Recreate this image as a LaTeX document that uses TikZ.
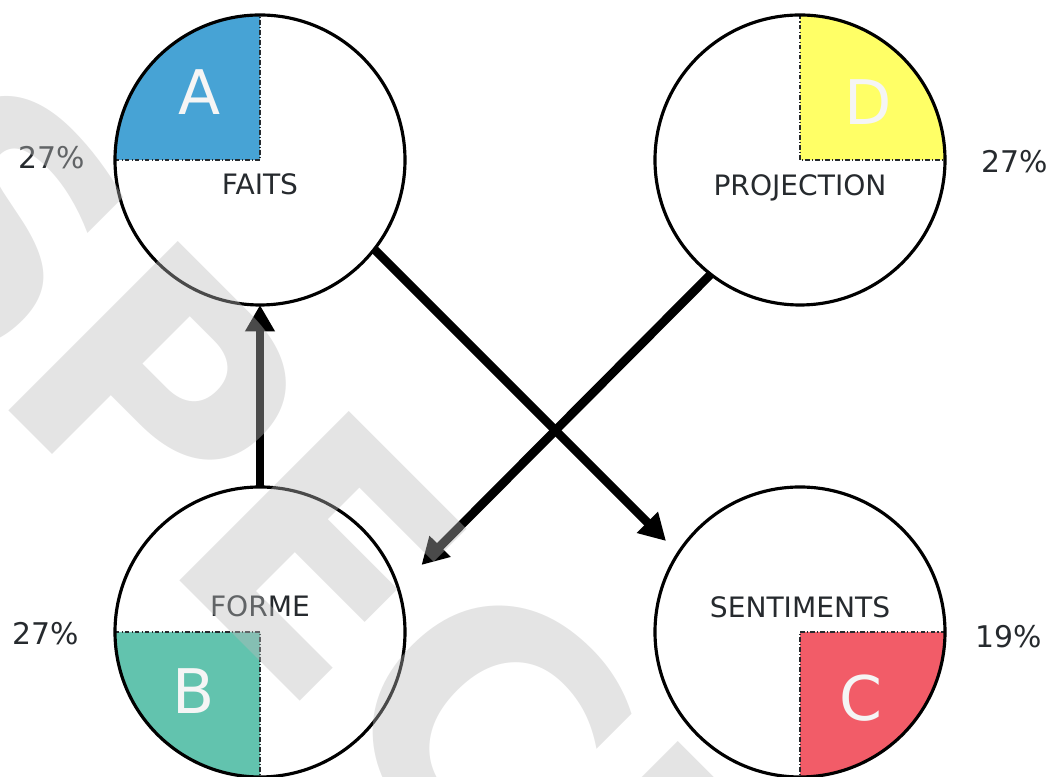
\documentclass[tikz,border=0pt]{standalone}
\usepackage{fontspec}
\setmainfont{DejaVu Sans}
\usepackage{xcolor}
\usetikzlibrary{arrows.meta, positioning, calc}

\definecolor{quadA}{RGB}{71,163,213}
\definecolor{quadB}{RGB}{98,195,174}
\definecolor{quadC}{RGB}{242,92,104}
\definecolor{quadD}{RGB}{255,255,102}
\definecolor{labelgray}{RGB}{38,42,46}
\definecolor{markgray}{RGB}{187,187,187}

\tikzset{
	pole/.style={circle, minimum size=5.8cm, inner sep=0pt, outer sep=0pt},
	ring/.style={draw=black, line width=1.8pt},
	split/.style={draw=labelgray, line width=1.2pt, dash pattern=on 2.5pt off 1.2pt on 0.8pt off 1.2pt},
	poletext/.style={anchor=base, text=labelgray, font=\fontsize{16}{19}\selectfont},
	share/.style={text=labelgray, font=\fontsize{17}{20}\selectfont},
	letter/.style={text=white!96!black, font=\fontsize{35}{40}\selectfont},
	flow/.style={line width=5pt, -{Triangle[length=15pt,width=16pt]}},
	watermark/.style={text=markgray, opacity=0.4, font=\bfseries\fontsize{187}{190}\selectfont}
}

\begin{document}
\begin{tikzpicture}
		\useasboundingbox (0,0) rectangle (21.06,15.54);
		
		% Circles
		\node[pole] (FAITS) at (5.2,12.34) {};
		\node[pole] (PROJECTION) at (16,12.34) {};
		\node[pole] (FORME) at (5.2,2.9) {};
		\node[pole] (SENTIMENTS) at (16,2.9) {};
		
		% Quadrants
		\fill[quadA] (FAITS.center) -- (FAITS.west) arc[start angle=180, end angle=90, radius=2.9cm] -- cycle;
		\fill[quadD] (PROJECTION.center) -- (PROJECTION.north) arc[start angle=90, end angle=0, radius=2.9cm] -- cycle;
		\fill[quadB] (FORME.center) -- (FORME.west) arc[start angle=180, end angle=270, radius=2.9cm] -- cycle;
		\fill[quadC] (SENTIMENTS.center) -- (SENTIMENTS.east) arc[start angle=0, end angle=-90, radius=2.9cm] -- cycle;
		
		\draw[split] (FAITS.west) -- (FAITS.center) -- (FAITS.north);
		\draw[split] (PROJECTION.north) -- (PROJECTION.center) -- (PROJECTION.east);
		\draw[split] (FORME.west) -- (FORME.center) -- (FORME.south);
		\draw[split] (SENTIMENTS.east) -- (SENTIMENTS.center) -- (SENTIMENTS.south);
		
		\draw[ring] (FAITS.center) circle[radius=2.9cm];
		\draw[ring] (PROJECTION.center) circle[radius=2.9cm];
		\draw[ring] (FORME.center) circle[radius=2.9cm];
		\draw[ring] (SENTIMENTS.center) circle[radius=2.9cm];
		
		% Letters
		\node[letter] (A) at (4,13.7) {A};
		\node[letter] (D) at (17.36,13.49) {D};
		\node[letter] (B) at (3.88,1.72) {B};
		\node[letter] (C) at (17.22,1.58) {C};
		
		% Names
		\node[poletext] (faitsname) at ([yshift=-0.7cm]FAITS.center) {FAITS};
		\node[poletext] (projname) at ([yshift=-0.72cm]PROJECTION.center) {PROJECTION};
		\node[poletext] (formename) at ([yshift=0.3cm]FORME.center) {FORME};
		\node[poletext] (sentname) at ([yshift=0.28cm]SENTIMENTS.center) {SENTIMENTS};
		
		% Shares
		\node[share] (shareA) at (1.03,12.39) {27\%};
		\node[share] (shareD) at (20.29,12.31) {27\%};
		\node[share] (shareB) at (0.92,2.87) {27\%};
		\node[share] (shareC) at (20.17,2.81) {19\%};
		
		% Arrows
		\coordinate (toC) at (13.32,4.72);
		\coordinate (toB) at (8.43,4.24);
		\draw[flow] (FORME) -- (FAITS);
		\draw[flow] (FAITS.-38) -- (toC);
		\draw[flow] (PROJECTION.232) -- (toB);
		
		% Watermark
		\begin{scope}
			\clip (0,0) rectangle (21.06,15.54);
			\node[watermark, anchor=base west, rotate=-45] (mark) at (-3.68,11.18) {SPECI};
		\end{scope}
	\end{tikzpicture}
\end{document}
